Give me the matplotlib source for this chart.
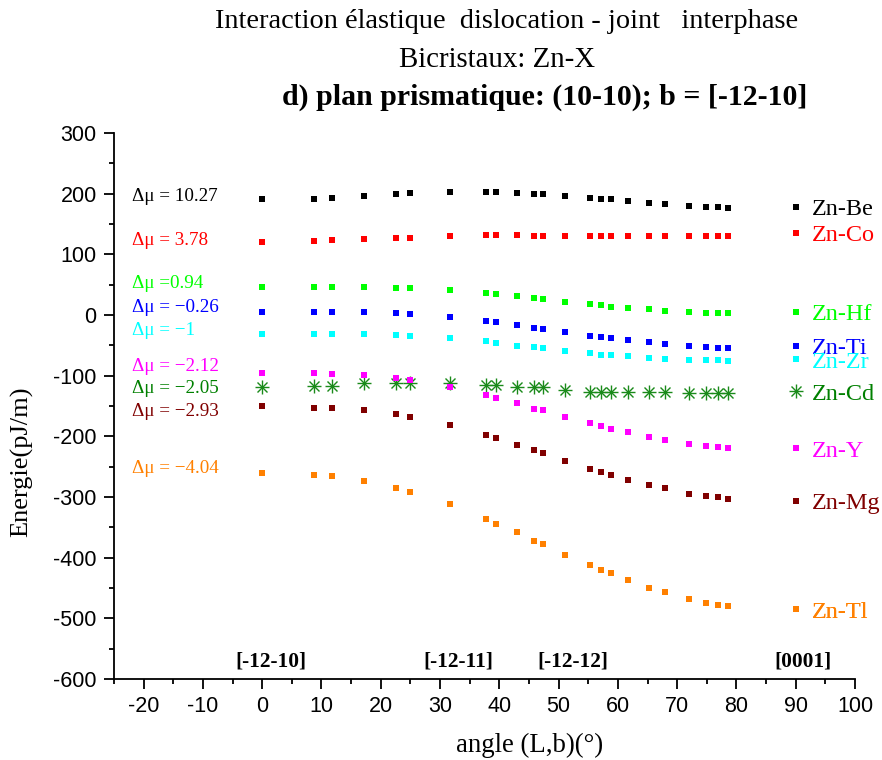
import matplotlib
matplotlib.use("Agg")
import matplotlib.pyplot as plt
from matplotlib.lines import Line2D
from matplotlib.ticker import MultipleLocator

plt.rcParams["axes.unicode_minus"] = False

# ---------------- data ----------------
angle = [0, 8.8, 11.7, 17.2, 22.5, 24.9, 31.7, 37.7, 39.4, 42.9, 45.9, 47.3,
         51.1, 55.3, 57.1, 58.8, 61.7, 65.3, 68.0, 72.0, 74.9, 76.9, 78.5]

zn_be = [190.6, 191.6, 192.8, 195.6, 198.9, 201.0, 202.6, 202.6, 202.6, 201.5, 199.8, 198.9,
         196.0, 192.4, 191.1, 190.6, 187.8, 184.5, 182.4, 180.1, 178.4, 177.9, 176.8]
zn_co = [120.8, 121.9, 123.6, 125.2, 127.3, 127.3, 130.6, 131.3, 131.3, 131.3, 130.6, 130.6,
         130.6, 130.6, 129.7, 129.7, 129.7, 129.7, 130.1, 130.6, 130.6, 130.6, 130.6]
zn_hf = [46.1, 46.1, 46.1, 46.1, 45.0, 45.0, 41.2, 36.2, 34.6, 31.3, 27.5, 25.8,
         22.0, 18.1, 16.0, 13.7, 11.5, 9.3, 7.1, 4.9, 3.8, 3.3, 2.7]
zn_ti = [5.5, 5.5, 5.5, 4.4, 2.7, 1.6, -3.3, -10.4, -12.1, -15.9, -20.9, -23.1,
         -28.0, -34.1, -36.2, -38.4, -41.2, -45.0, -48.3, -51.6, -53.2, -54.4, -54.9]
zn_zr = [-30.7, -30.7, -30.7, -30.7, -33.5, -34.1, -38.4, -43.4, -45.6, -50.5, -52.7, -54.9,
         -58.8, -63.2, -65.4, -65.9, -67.5, -70.8, -72.0, -73.6, -74.7, -74.7, -75.8]
zn_y = [-95.0, -96.1, -97.2, -99.4, -104.3, -107.1, -118.1, -131.8, -136.2, -145.5, -154.3, -157.0,
        -167.5, -178.4, -183.4, -187.3, -193.2, -201.5, -206.4, -212.0, -216.3, -218.0, -219.6]
zn_cd = [-118.1, -116.5, -116.5, -112.6, -111.5, -111.5, -112.6, -115.3, -115.3, -118.1, -118.1, -118.1,
         -123.6, -126.3, -126.3, -126.3, -127.4, -127.4, -127.4, -129.1, -129.1, -129.1, -129.1]
zn_mg = [-149.9, -152.7, -153.8, -156.5, -163.1, -167.5, -181.2, -197.2, -203.1, -213.7, -222.9, -227.8,
         -240.0, -253.2, -258.6, -263.1, -271.3, -280.1, -285.5, -294.4, -297.7, -300.3, -302.6]
zn_tl = [-259.8, -264.1, -265.7, -274.0, -284.5, -291.1, -311.4, -336.1, -344.3, -358.0, -372.3, -377.8,
         -395.4, -412.4, -420.6, -425.6, -437.1, -449.8, -456.8, -467.9, -474.5, -478.3, -479.9]

series_names = ["Zn-Be", "Zn-Co", "Zn-Hf", "Zn-Ti", "Zn-Zr", "Zn-Cd", "Zn-Y", "Zn-Mg", "Zn-Tl"]
series_values = [zn_be, zn_co, zn_hf, zn_ti, zn_zr, zn_cd, zn_y, zn_mg, zn_tl]
delta_mu_labels = ["Δμ = 10.27", "Δμ = 3.78", "Δμ =0.94", "Δμ = −0.26", "Δμ = −1",
                   "Δμ = −2.05", "Δμ = −2.12", "Δμ = −2.93", "Δμ = −4.04"]
direction_labels = ["[-12-10]", "[-12-11]", "[-12-12]", "[0001]"]
direction_angles = [1.5, 33.1, 52.4, 91.2]

# ---------------- style ----------------
colors = ["#000000", "#ff0000", "#00ff00", "#0000ff", "#00ffff", "#1a8a1a",
          "#ff00ff", "#800000", "#ff8000"]
label_colors = ["#000000", "#ff0000", "#00ff00", "#0000ff", "#00ffff", "#008000",
                "#ff00ff", "#800000", "#ff8000"]
dmu_y = [195, 123.6, 52, 12.7, -25.9, -120.8, -85, -159, -252.6]
legend_y = [174.6, 131.8, 1.6, -55, -77, -130, -224, -310, -489]

serif = ["Liberation Serif", "DejaVu Serif"]
sans = ["Liberation Sans", "DejaVu Sans"]

fig = plt.figure(figsize=(8.82, 7.6), dpi=100)
ax = fig.add_axes([114 / 882, 1 - 679 / 760, (855 - 114) / 882, (679 - 133) / 760])

for name, vals, c in zip(series_names, series_values, colors):
    if name == "Zn-Cd":
        ax.plot(angle, vals, linestyle="none", marker="+", ms=10, mew=1.0, color=c, clip_on=False)
        ax.plot(angle, vals, linestyle="none", marker="x", ms=7.5, mew=1.0, color=c, clip_on=False)
    else:
        ax.plot(angle, vals, linestyle="none", marker="s", ms=5, mew=0, color=c, clip_on=False)

ax.set_xlim(-25, 100)
ax.set_ylim(-600, 300)
ax.xaxis.set_major_locator(MultipleLocator(10))
ax.xaxis.set_minor_locator(MultipleLocator(5))
ax.yaxis.set_major_locator(MultipleLocator(100))
ax.yaxis.set_minor_locator(MultipleLocator(50))
for s in ["top", "right"]:
    ax.spines[s].set_visible(False)
for s in ["left", "bottom"]:
    ax.spines[s].set_linewidth(1.3)
ax.tick_params(which="major", direction="out", length=7.5, width=1.3, labelsize=15.5, pad=5)
ax.tick_params(which="minor", direction="out", length=3.8, width=1.3)
xticks = list(range(-20, 101, 10))
ax.set_xticks(xticks)
ax.set_xticklabels([str(t) for t in xticks])
for lab in ax.get_xticklabels() + ax.get_yticklabels():
    lab.set_family(sans)

# Delta mu annotations
for txt, yv, c in zip(delta_mu_labels, dmu_y, label_colors):
    ax.text(-22, yv, txt, color=c, fontsize=13.8, family=serif, ha="left", va="center")

# direction annotations
for txt, xv in zip(direction_labels, direction_angles):
    ax.text(xv, -571, txt, fontsize=15.4, family=serif, fontweight="bold",
            ha="center", va="center")

# per-series labels on the right
for name, c, lc, yv in zip(series_names, colors, label_colors, legend_y):
    if name == "Zn-Cd":
        h = (Line2D([], [], ls="none", marker="+", ms=10, mew=1.0, color=c),
             Line2D([], [], ls="none", marker="x", ms=7.5, mew=1.0, color=c))
    else:
        h = Line2D([], [], ls="none", marker="s", ms=4.3, mew=0, color=c)
    leg = ax.legend([h], [name], loc="center left", bbox_to_anchor=(89.0, yv),
                    bbox_transform=ax.transData, frameon=False, borderpad=0,
                    borderaxespad=0, handlelength=0.5, handletextpad=0.4,
                    prop={"family": serif, "size": 17.5})
    leg.get_texts()[0].set_color(lc)
    ax.add_artist(leg)

# titles and axis labels
fig.text(507 / 882, 1 - 21 / 760, "Interaction élastique  dislocation - joint   interphase",
         ha="center", va="center", fontsize=20.4, family=serif)
fig.text(497.5 / 882, 1 - 60 / 760, "Bicristaux: Zn-X", ha="center", va="center",
         fontsize=20.8, family=serif)
fig.text(544.5 / 882, 1 - 97 / 760, "d) plan prismatique: (10-10); b = [-12-10]",
         ha="center", va="center", fontsize=21.5, family=serif, fontweight="bold")
fig.text(22 / 882, 1 - 462 / 760, "Energie(pJ/m)", rotation=90, ha="center", va="center",
         fontsize=19, family=serif)
fig.text(530 / 882, 1 - 745 / 760, "angle (L,b)(°)", ha="center", va="center",
         fontsize=19.3, family=serif)

fig.savefig("out.png", dpi=100)
